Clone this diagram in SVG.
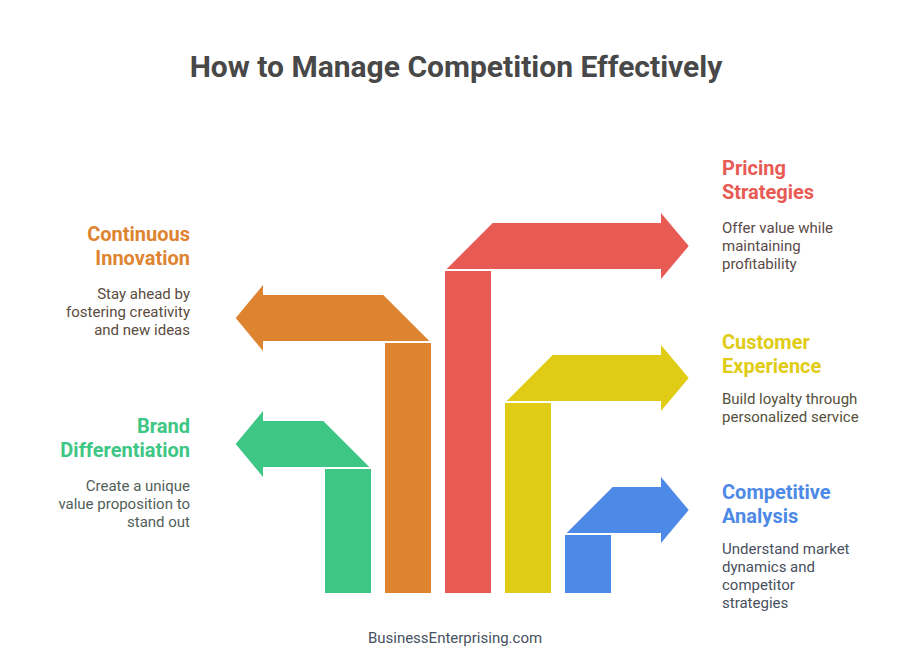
<svg xmlns="http://www.w3.org/2000/svg" width="912" height="669" viewBox="0 0 912 669">
<style>
text{font-family:Roboto,"Liberation Sans",sans-serif}
.title{font-size:30px;font-weight:700;fill:#484848}
.head{font-size:20px;font-weight:700}
.body{font-size:15px}
.foot{font-size:15px;fill:#46505e}
.end{text-anchor:end}
.green{fill:#3DC684}.orange{fill:#DE8431}.red{fill:#E85A54}.yellow{fill:#E0CC14}.blue{fill:#4D89E6}
.tg{fill:#52605a}.to{fill:#5a4c40}.tr{fill:#5a4a48}.ty{fill:#55513c}.tb{fill:#48505e}
</style>
<rect width="912" height="669" fill="#fff"/>
<text class="title" x="456" y="77" text-anchor="middle">How to Manage Competition Effectively</text>
<g id="brand-differentiation">
<rect class="green" x="325" y="469" width="46" height="124"/>
<polygon class="green" points="235.7,444 263,411 263,421 323.3,421 369.3,467 263,467 263,477"/>
<text class="head green end" x="190" y="433">Brand</text>
<text class="head green end" x="190" y="457">Differentiation</text>
<text class="body tg end" x="190" y="490.7">Create a unique</text>
<text class="body tg end" x="190" y="508.7">value proposition to</text>
<text class="body tg end" x="190" y="526.7">stand out</text>
</g>
<g id="continuous-innovation">
<rect class="orange" x="385" y="343" width="46" height="250"/>
<polygon class="orange" points="235.7,318 263,285 263,295 383.3,295 429.3,341 263,341 263,351"/>
<text class="head orange end" x="190" y="241">Continuous</text>
<text class="head orange end" x="190" y="265">Innovation</text>
<text class="body to end" x="190" y="299">Stay ahead by</text>
<text class="body to end" x="190" y="317">fostering creativity</text>
<text class="body to end" x="190" y="335">and new ideas</text>
</g>
<g id="pricing-strategies">
<rect class="red" x="445" y="271" width="46" height="322"/>
<polygon class="red" points="688.7,246 661,213 661,223 492.7,223 446.7,269 661,269 661,279"/>
<text class="head red" x="722" y="175">Pricing</text>
<text class="head red" x="722" y="199">Strategies</text>
<text class="body tr" x="722" y="233">Offer value while</text>
<text class="body tr" x="722" y="251">maintaining</text>
<text class="body tr" x="722" y="269">profitability</text>
</g>
<g id="customer-experience">
<rect class="yellow" x="505" y="403" width="46" height="190"/>
<polygon class="yellow" points="688.7,378 661,345 661,355 552.7,355 506.7,401 661,401 661,411"/>
<text class="head yellow" x="722" y="349">Customer</text>
<text class="head yellow" x="722" y="373">Experience</text>
<text class="body ty" x="722" y="404">Build loyalty through</text>
<text class="body ty" x="722" y="422">personalized service</text>
</g>
<g id="competitive-analysis">
<rect class="blue" x="565" y="535" width="46" height="58"/>
<polygon class="blue" points="688.7,510 661,477 661,487 612.7,487 566.7,533 661,533 661,543"/>
<text class="head blue" x="722" y="499">Competitive</text>
<text class="head blue" x="722" y="523">Analysis</text>
<text class="body tb" x="722" y="554">Understand market</text>
<text class="body tb" x="722" y="572">dynamics and</text>
<text class="body tb" x="722" y="590">competitor</text>
<text class="body tb" x="722" y="608">strategies</text>
</g>
<g id="connectors"></g>
<text class="foot" x="455" y="643" text-anchor="middle">BusinessEnterprising.com</text>
</svg>
